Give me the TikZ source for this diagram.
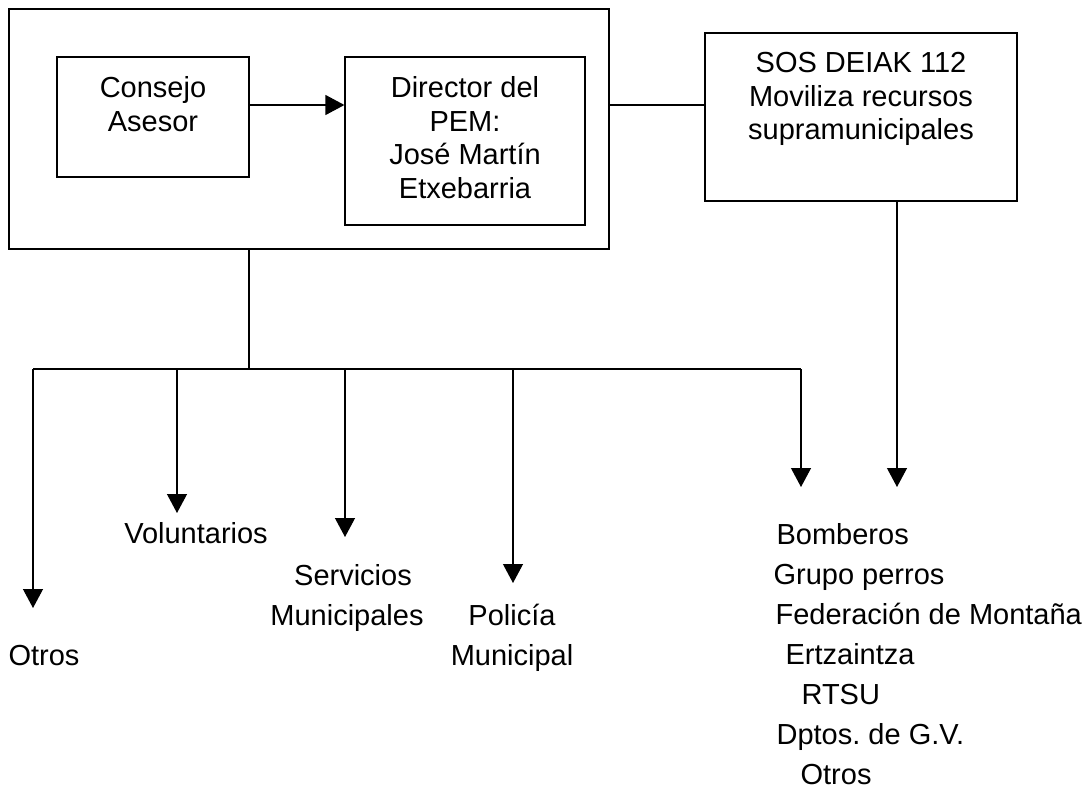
\documentclass[tikz,border=0pt]{standalone}
\usepackage{fontspec}
\setmainfont{Liberation Sans}
\frenchspacing
\usetikzlibrary{arrows.meta}

\tikzset{
  box/.style={draw, line width=0.6pt, inner sep=0pt},
  boxtext/.style={inner sep=0pt, anchor=north, align=center, font=\fontsize{14.5}{16.75}\selectfont},
  lbl/.style={inner sep=0pt, anchor=base, font=\fontsize{14.5}{16.75}\selectfont},
  item/.style={inner sep=0pt, anchor=base west, font=\fontsize{14.5}{16.75}\selectfont},
  arr/.style={-{Triangle[length=9.5pt,width=10pt]}},
}

\begin{document}
\begin{tikzpicture}[x=0.5pt,y=-0.5pt,line width=0.6pt]
        \useasboundingbox (0,0) rectangle (1086,788);
        % boxes
        \node[box, minimum width=300pt, minimum height=120pt] (outer) at (309,129) {};
        \node[box, minimum width=96pt, minimum height=60pt] (consejo) at (153,117) {};
        \node[box, minimum width=120pt, minimum height=84pt] (director) at (465,141) {};
        \node[box, minimum width=156pt, minimum height=84pt] (sos) at (861,117) {};
        \node[boxtext] (consejoText) at (153,76) {Consejo\\Asesor};
        \node[boxtext] (directorText) at (465,76) {Director del\\PEM:\\José Martín\\Etxebarria};
        \node[boxtext] (sosText) at (861,52) {SOS DEIAK 112\\Moviliza recursos\\supramunicipales};
        \coordinate (lvl) at (0,105);
        \draw[arr] (consejo.east |- lvl) -- (director.west |- lvl);
        \draw (outer.east |- lvl) -- (sos.west |- lvl);

        % branches
        \coordinate (split) at (249,369);
        \coordinate (tipOtros) at (33,608);
        \coordinate (tipVol) at (177,513);
        \coordinate (tipServ) at (345,537);
        \coordinate (tipPol) at (513,583);
        \coordinate (tipBomb) at (801,487);
        \coordinate (tipSos) at (897,487);
        \draw (outer.south -| split) -- (split);
        \draw (tipOtros |- split) -- (tipBomb |- split);
        \draw[arr] (tipOtros |- split) -- (tipOtros);
        \draw[arr] (tipVol |- split) -- (tipVol);
        \draw[arr] (tipServ |- split) -- (tipServ);
        \draw[arr] (tipPol |- split) -- (tipPol);
        \draw[arr] (tipBomb |- split) -- (tipBomb);
        \draw[arr] (sos.south -| tipSos) -- (tipSos);

        % labels
        \foreach \x/\y/\t [count=\i] in {44/665/Otros, 196/543/Voluntarios,
            353/585/Servicios, 347/625/Municipales, 512/625/Policía, 512/665/Municipal}
          \node[lbl] (low\i) at (\x,\y) {\t};
        \foreach \x/\y/\t [count=\i] in {776/544/Bomberos, 773/584/Grupo perros,
            775/624/Federación de Montaña, 785/664/Ertzaintza, 801/704/RTSU,
            776/744/Dptos. de G.V., 800/784/Otros}
          \node[item] (res\i) at (\x,\y) {\t};
\end{tikzpicture}
\end{document}
